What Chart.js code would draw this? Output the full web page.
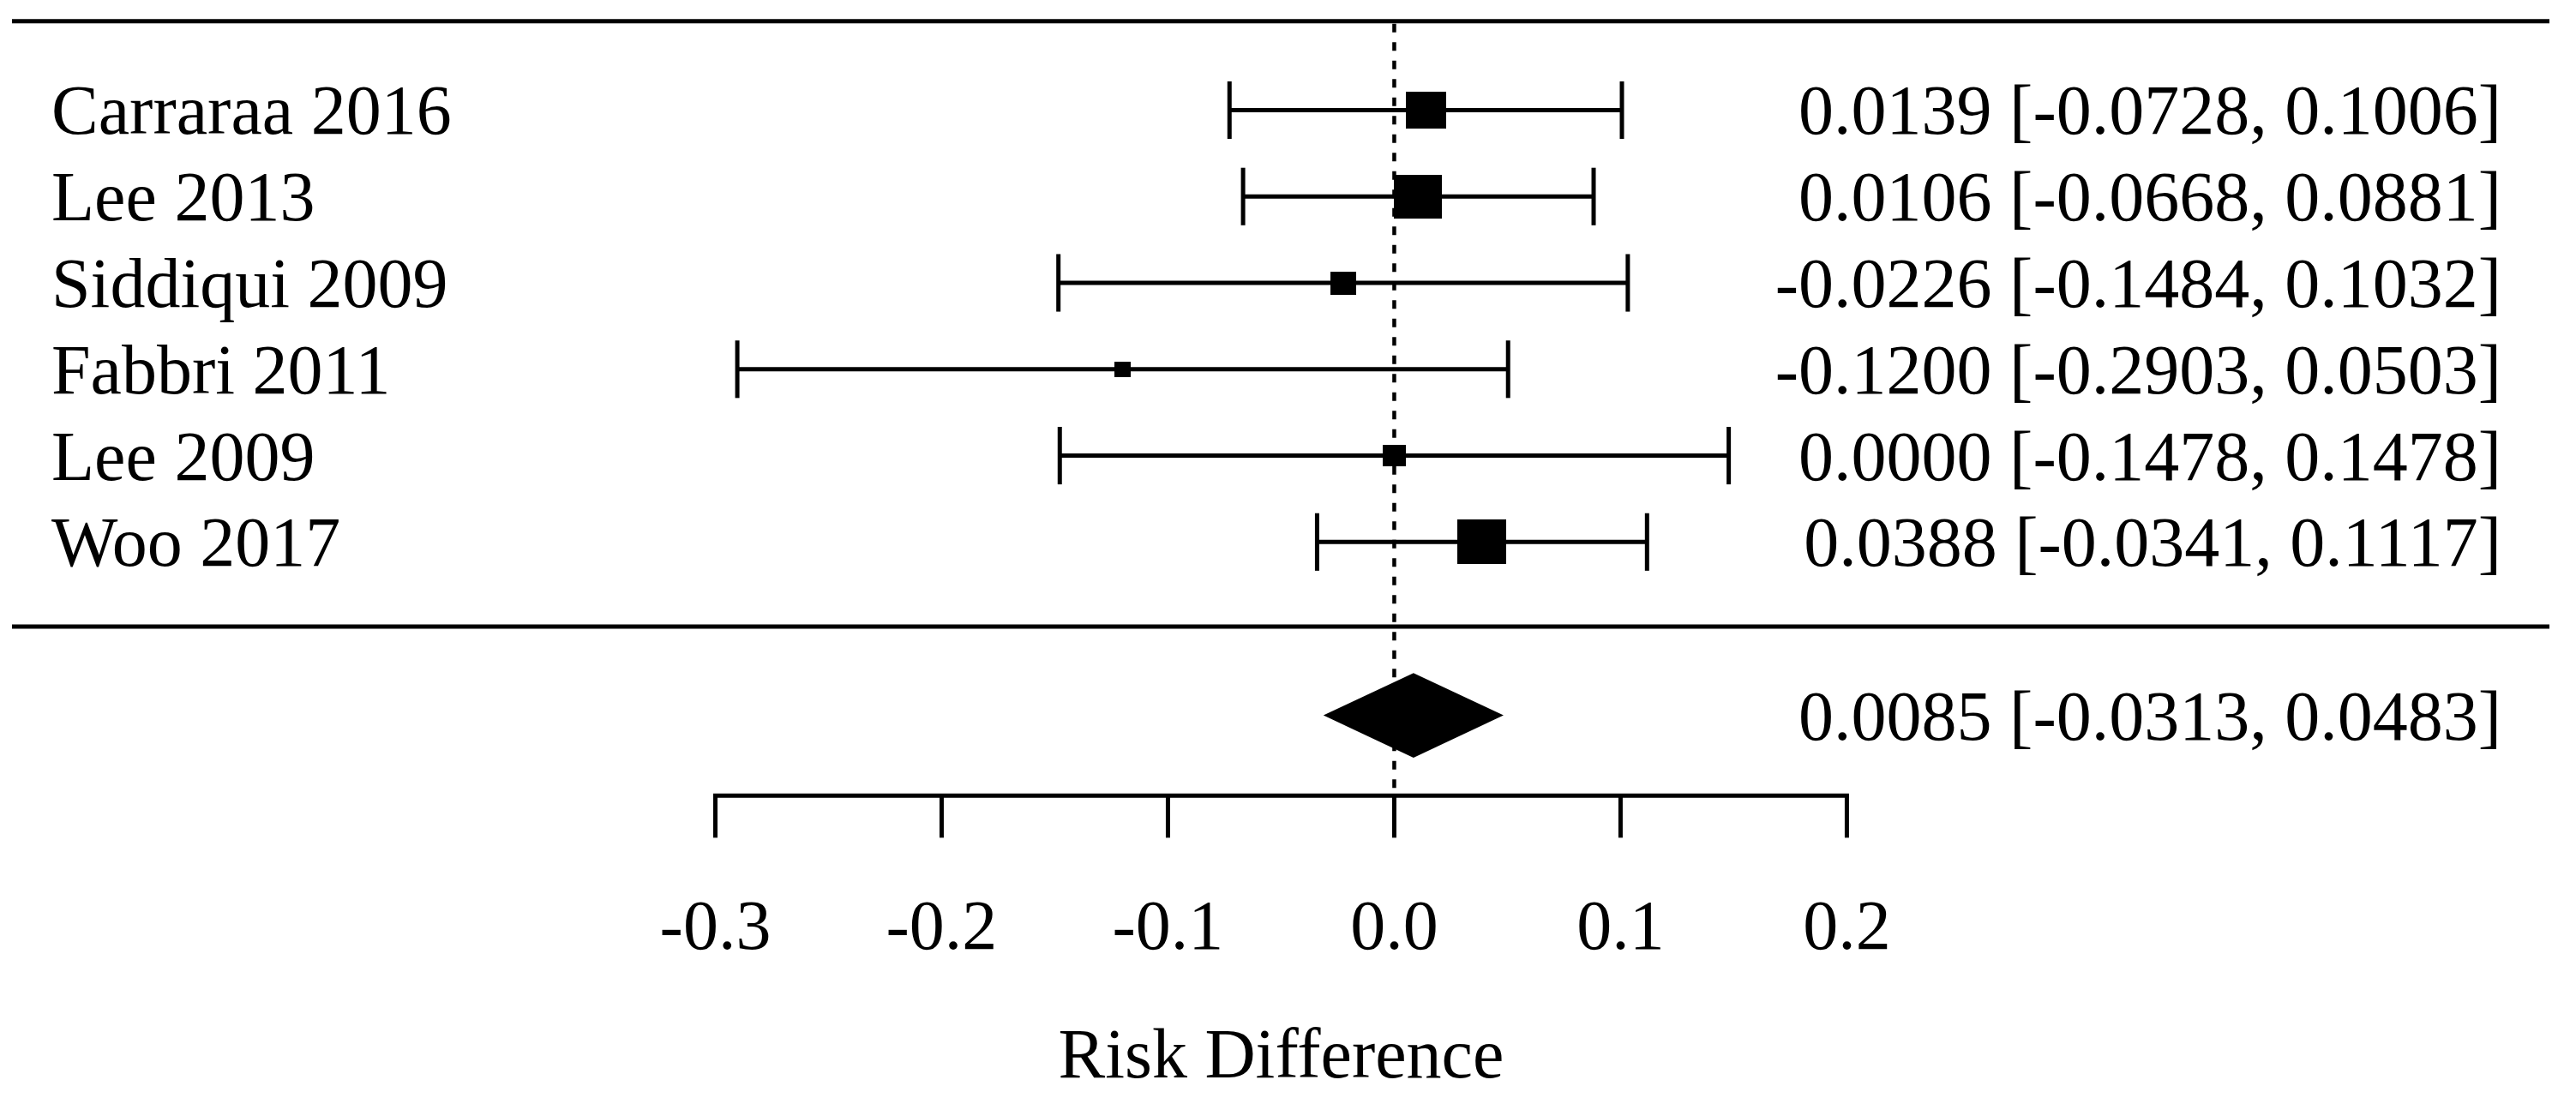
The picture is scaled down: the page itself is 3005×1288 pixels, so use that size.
<!DOCTYPE html>
<html>
<head>
<meta charset="utf-8">
<title>Forest plot - Risk Difference</title>
<script src="https://cdn.jsdelivr.net/npm/chart.js@4.4.1/dist/chart.umd.min.js"></script>
<style>
  html, body { margin: 0; padding: 0; background: #fff; }
  #wrap { width: 3005px; height: 1288px; }
</style>
</head>
<body>
<div id="wrap"><canvas id="forestChart" width="3005" height="1288"></canvas></div>
<script>
// Study rows, top to bottom
const studies = ['Carraraa 2016', 'Lee 2013', 'Siddiqui 2009', 'Fabbri 2011', 'Lee 2009', 'Woo 2017'];
const estimates = [0.0139, 0.0106, -0.0226, -0.1200, 0.0000, 0.0388];
const lowerCI = [-0.0728, -0.0668, -0.1484, -0.2903, -0.1478, -0.0341];
const upperCI = [0.1006, 0.0881, 0.1032, 0.0503, 0.1478, 0.1117];
// relative box weight (largest study = 1)
const weights = [0.82, 0.99, 0.52, 0.34, 0.48, 1.00];

// pooled estimate
const summaryEstimate = 0.0085;
const summaryCI = [-0.0313, 0.0483];

// x axis
const axisTicks = [-0.3, -0.2, -0.1, 0.0, 0.1, 0.2];
const tickLabels = ['-0.3', '-0.2', '-0.1', '0.0', '0.1', '0.2'];
const xTitle = 'Risk Difference';

// layout, in y-scale row units unless noted
const ROW_TOP_RULE = -1.03;
const ROW_SEPARATOR = 5.98;
const ROW_SUMMARY = 7.007;
const ROW_AXIS = 7.938;
const CAP_HALF = 0.333;
const DIAMOND_HALF = 0.49;
const BOX_W = 57;   // px, box of the heaviest study
const BOX_H = 52;
const FONT = '82px "Liberation Serif", "Times New Roman", serif';

const fmt = v => v.toFixed(4);

const line = (ctx, x1, y1, x2, y2) => {
  ctx.beginPath();
  ctx.moveTo(x1, y1);
  ctx.lineTo(x2, y2);
  ctx.stroke();
};

// filled boxes used as point styles, sized by weight
const boxImages = weights.map(w => {
  const c = document.createElement('canvas');
  c.width = Math.round(w * BOX_W);
  c.height = Math.round(w * BOX_H);
  const g = c.getContext('2d');
  g.fillStyle = '#000';
  g.fillRect(0, 0, c.width, c.height);
  return c;
});

const forestDecor = {
  id: 'forestDecor',
  beforeDatasetsDraw(chart) {
    const { ctx, chartArea, scales: { x, y } } = chart;
    ctx.save();
    ctx.strokeStyle = '#000';
    ctx.fillStyle = '#000';

    // horizontal rules
    ctx.lineWidth = 5;
    [ROW_TOP_RULE, ROW_SEPARATOR].forEach(r => {
      const py = y.getPixelForValue(r);
      line(ctx, chartArea.left + 14, py, chartArea.right - 31, py);
    });

    // dashed reference line at 0
    ctx.lineWidth = 4.5;
    ctx.setLineDash([10, 11.5]);
    const x0 = x.getPixelForValue(0);
    line(ctx, x0, y.getPixelForValue(ROW_TOP_RULE) + 3, x0, y.getPixelForValue(ROW_AXIS));
    ctx.setLineDash([]);

    // confidence interval whiskers
    ctx.lineWidth = 5;
    studies.forEach((s, i) => {
      const py = y.getPixelForValue(i);
      const xl = x.getPixelForValue(lowerCI[i]);
      const xh = x.getPixelForValue(upperCI[i]);
      const top = y.getPixelForValue(i - CAP_HALF);
      const bot = y.getPixelForValue(i + CAP_HALF);
      line(ctx, xl, py, xh, py);
      line(ctx, xl, top, xl, bot);
      line(ctx, xh, top, xh, bot);
    });

    // summary diamond
    ctx.beginPath();
    ctx.moveTo(x.getPixelForValue(summaryCI[0]), y.getPixelForValue(ROW_SUMMARY));
    ctx.lineTo(x.getPixelForValue(summaryEstimate), y.getPixelForValue(ROW_SUMMARY - DIAMOND_HALF));
    ctx.lineTo(x.getPixelForValue(summaryCI[1]), y.getPixelForValue(ROW_SUMMARY));
    ctx.lineTo(x.getPixelForValue(summaryEstimate), y.getPixelForValue(ROW_SUMMARY + DIAMOND_HALF));
    ctx.closePath();
    ctx.fill();
    ctx.restore();
  },
  afterDatasetsDraw(chart) {
    const { ctx, chartArea, scales: { x, y } } = chart;
    ctx.save();
    ctx.fillStyle = '#000';
    ctx.strokeStyle = '#000';
    ctx.font = FONT;
    ctx.textBaseline = 'alphabetic';

    // study labels + estimates
    const textRight = chartArea.right - 87;
    studies.forEach((s, i) => {
      const py = y.getPixelForValue(i) + 28;
      ctx.textAlign = 'left';
      ctx.fillText(s, chartArea.left + 60, py);
      ctx.textAlign = 'right';
      ctx.fillText(fmt(estimates[i]) + ' [' + fmt(lowerCI[i]) + ', ' + fmt(upperCI[i]) + ']', textRight, py);
    });
    ctx.textAlign = 'right';
    ctx.fillText(fmt(summaryEstimate) + ' [' + fmt(summaryCI[0]) + ', ' + fmt(summaryCI[1]) + ']',
      textRight, y.getPixelForValue(ROW_SUMMARY) + 28);

    // bottom axis
    const ay = y.getPixelForValue(ROW_AXIS);
    const xa = x.getPixelForValue(axisTicks[0]);
    const xb = x.getPixelForValue(axisTicks[axisTicks.length - 1]);
    ctx.lineWidth = 5;
    line(ctx, xa - 2.5, ay, xb + 2.5, ay);
    ctx.textAlign = 'center';
    axisTicks.forEach((t, i) => {
      const px = x.getPixelForValue(t);
      line(ctx, px, ay, px, ay + 49);
      ctx.fillText(tickLabels[i], px, ay + 179);
    });
    ctx.fillText(xTitle, (xa + xb) / 2, ay + 329);
    ctx.restore();
  }
};

new Chart(document.getElementById('forestChart').getContext('2d'), {
  type: 'scatter',
  data: {
    datasets: [{
      label: 'Studies',
      data: estimates.map((e, i) => ({ x: e, y: i })),
      pointStyle: ctx => boxImages[ctx.dataIndex],
      pointRadius: 10,
      pointHoverRadius: 10,
      borderWidth: 0,
      backgroundColor: '#000'
    }]
  },
  options: {
    responsive: false,
    animation: false,
    events: [],
    layout: { padding: 0, autoPadding: false },
    plugins: {
      legend: { display: false },
      tooltip: { enabled: false }
    },
    scales: {
      x: { type: 'linear', min: -0.6161, max: 0.5222, display: false },
      y: { type: 'linear', min: -1.2753, max: 11.5075, reverse: true, display: false }
    }
  },
  plugins: [forestDecor]
});
</script>
</body>
</html>
